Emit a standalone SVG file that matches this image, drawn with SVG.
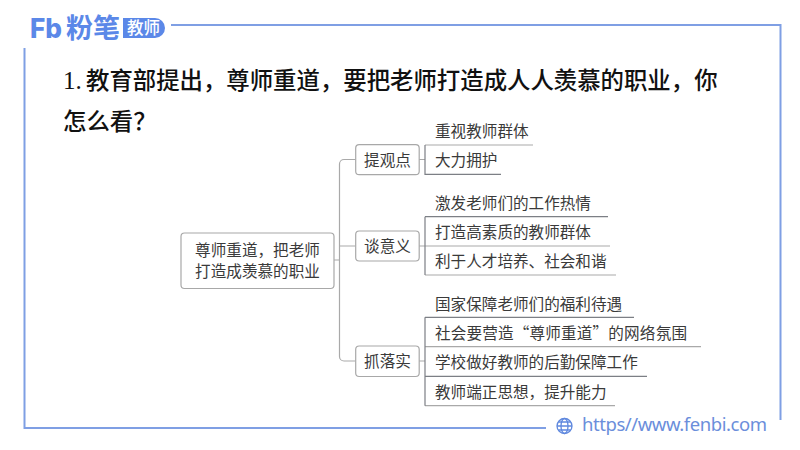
<svg xmlns="http://www.w3.org/2000/svg" width="800" height="450" viewBox="0 0 800 450">
<style>
text{font-family:"Noto Sans CJK SC","Noto Sans",sans-serif}
.title{font-size:23.4px;fill:#111;font-weight:500}
.t{font-size:15.6px;fill:#3a3a3a;dominant-baseline:central}
.box{fill:#fff;stroke:#a8a8a8;stroke-width:1.2}
.c{fill:none;stroke:#a9a9a9;stroke-width:1.2}
.d{fill:none;stroke:#7c7f85;stroke-width:1.2}
.frame{fill:none;stroke:#7f9fe4;stroke-width:2}
</style>
<rect width="800" height="450" fill="#fff"/>
<g id="frame">
<path class="frame" d="M171 25H780.500V420M24.500 48V428H546"/>
</g>
<g id="logo">
<text x="30" y="38" font-size="27" font-weight="800" fill="#5b88e8" style="font-family:Inter,sans-serif" textLength="32" lengthAdjust="spacingAndGlyphs">Fb</text>
<text x="66" y="38" font-size="27" font-weight="700" fill="#5b88e8">粉笔</text>
<path d="M123 18H155a10 10 0 0 1 0 20H123z" fill="#5b88e8"/>
<text x="127" y="34" font-size="16.500" font-weight="500" fill="#fff">教师</text>
</g>
<g id="heading">
<text class="title" x="63" y="89" style="font-family:'Liberation Serif',serif;font-size:25px">1.</text>
<text class="title" x="86" y="89">教育部提出&#xFF0C;尊师重道&#xFF0C;要把老师打造成人人羡慕的职业&#xFF0C;你</text>
<text class="title" x="63" y="130">怎么看&#xFF1F;</text>
</g>
<g id="connectors">
<path class="c" d="M334 260H339.500M355.500 159.500H344a4.500 4.500 0 0 0-4.500 4.500V356.500a4.500 4.500 0 0 0 4.500 4.500H355.500M339.500 246H355.500"/>
<path class="c" d="M419 159.500H425M419 246H425M419 361H425"/>
<path class="c" d="M425 145H533M425 246H610M425 275H616M425 346.700H701M425 405.700H615"/>
<path class="d" d="M425 145V174.300H501M425 216.700V275M425 216.700H608M425 317.300V405.700M425 317.300H634M425 376.300H647"/>
</g>
<g id="root"><rect class="box" x="181" y="233" width="153" height="55.500" rx="3.500"/>
<text class="t" x="257.500" y="249" text-anchor="middle">尊师重道&#xFF0C;把老师</text>
<text class="t" x="257.500" y="270" text-anchor="middle">打造成羡慕的职业</text></g>
<g id="b1"><rect class="box" x="355.700" y="144.700" width="63.500" height="30" rx="3.500"/><text class="t" x="387.500" y="158.500" text-anchor="middle">提观点</text></g>
<g id="b2"><rect class="box" x="355.700" y="231" width="63.500" height="30" rx="3.500"/><text class="t" x="387.500" y="245" text-anchor="middle">谈意义</text></g>
<g id="b3"><rect class="box" x="355.700" y="346" width="63.500" height="30.500" rx="3.500"/><text class="t" x="387.500" y="360" text-anchor="middle">抓落实</text></g>
<g id="l1"><text class="t" x="435" y="130">重视教师群体</text></g>
<g id="l2"><text class="t" x="435" y="159">大力拥护</text></g>
<g id="l3"><text class="t" x="435" y="202">激发老师们的工作热情</text></g>
<g id="l4"><text class="t" x="435" y="231">打造高素质的教师群体</text></g>
<g id="l5"><text class="t" x="435" y="260">利于人才培养、社会和谐</text></g>
<g id="l6"><text class="t" x="435" y="303">国家保障老师们的福利待遇</text></g>
<g id="l7"><text class="t" x="435" y="332" textLength="252">社会要营造“尊师重道”的网络氛围</text></g>
<g id="l8"><text class="t" x="435" y="361">学校做好教师的后勤保障工作</text></g>
<g id="l9"><text class="t" x="435" y="391">教师端正思想&#xFF0C;提升能力</text></g>
<g id="footer">
<g fill="none" stroke="#5f88de" stroke-width="1.300"><circle cx="564.500" cy="426" r="7.500"/><ellipse cx="564.500" cy="426" rx="3.500" ry="7.500"/><path d="M557 426H572M558.300 422H570.700M558.300 430H570.700"/></g>
<text x="582" y="431" font-size="18.500" fill="#6b8edb" style="font-family:'Noto Sans',sans-serif" textLength="185">https//www.fenbi.com</text>
</g>
</svg>
